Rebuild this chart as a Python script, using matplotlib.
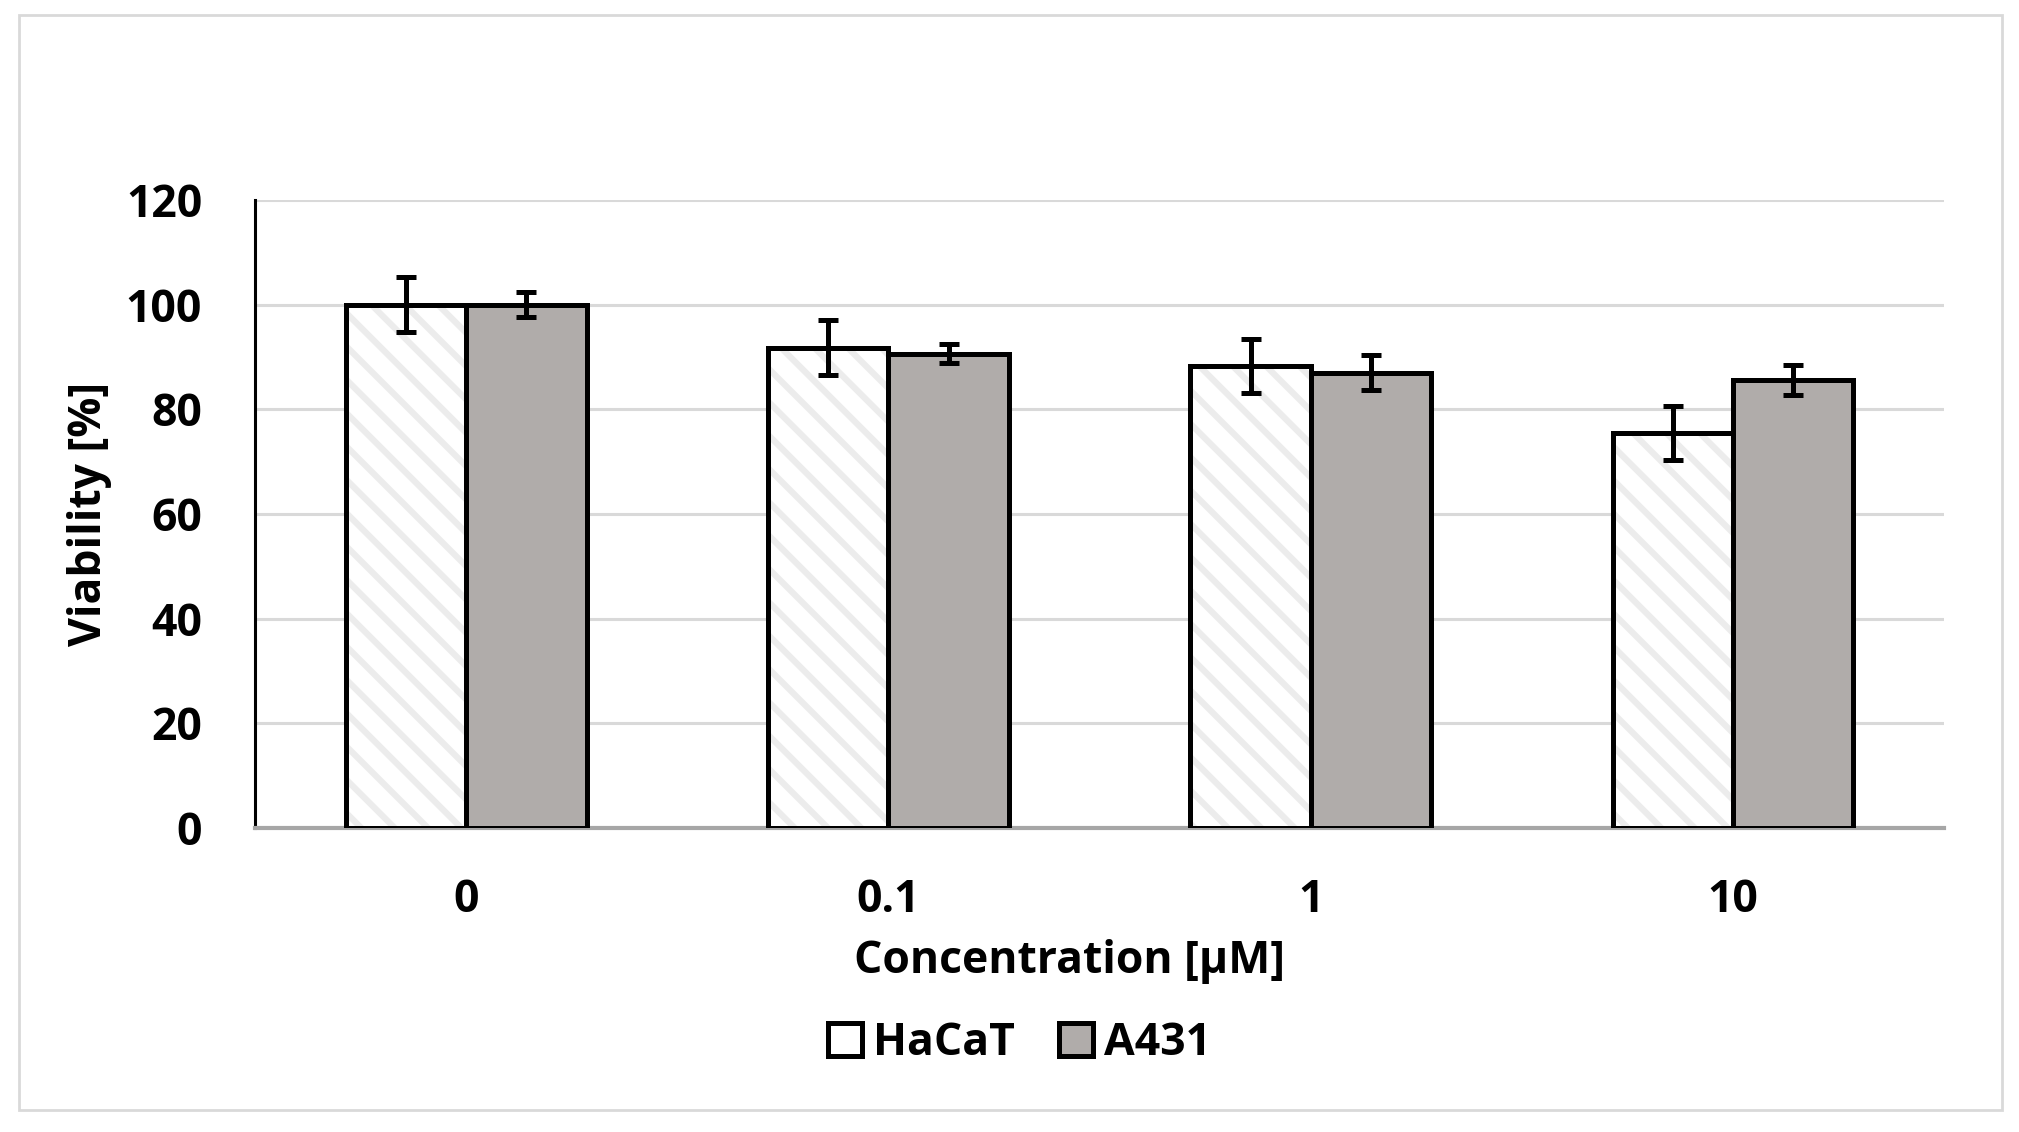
import matplotlib
matplotlib.use('Agg')
import matplotlib.pyplot as plt
from matplotlib.patches import Rectangle, Patch
import numpy as np

concentrations = ['0', '0.1', '1', '10']
hacat = [100, 91.8, 88.3, 75.5]
hacat_err = [5.2, 5.2, 5.2, 5.2]
a431 = [100, 90.6, 87.0, 85.6]
a431_err = [2.4, 1.8, 3.4, 2.8]

plt.rcParams['font.family'] = ['Open Sans', 'DejaVu Sans']
plt.rcParams['font.weight'] = 'bold'
plt.rcParams['hatch.linewidth'] = 4.5

fig = plt.figure(figsize=(20.19, 11.32), dpi=100)
ax = fig.add_axes([0.1263, 0.2686, 0.8367, 0.5547])

x = np.arange(len(concentrations))
w = 0.285
gray = '#b0acaa'

# hatch layer first (hatch takes the edge colour), then black outlines on top
ax.bar(x - w / 2, hacat, w, color='white', edgecolor='#ececec', linewidth=0,
       hatch='\\', zorder=3)
ax.bar(x - w / 2, hacat, w, fill=False, edgecolor='black', linewidth=3.6, zorder=3.5)
ax.bar(x + w / 2, a431, w, color=gray, edgecolor='black', linewidth=3.6, zorder=3.5)
ax.errorbar(x - w / 2, hacat, yerr=hacat_err, fmt='none', ecolor='black',
            elinewidth=3.6, capsize=7, capthick=3.6, zorder=4)
ax.errorbar(x + w / 2, a431, yerr=a431_err, fmt='none', ecolor='black',
            elinewidth=3.6, capsize=7, capthick=3.6, zorder=4)

ax.set_xlim(-0.5, 3.5)
ax.set_ylim(0, 120)
ax.set_yticks(np.arange(0, 121, 20))
ax.set_xticks(x)
ax.set_xticklabels(concentrations)
ax.tick_params(axis='both', length=0, labelsize=32)
ax.tick_params(axis='y', pad=38)
ax.tick_params(axis='x', pad=36)
ax.yaxis.grid(True, color='#d9d9d9', linewidth=2.2, zorder=0)
ax.set_axisbelow(True)

for s in ['top', 'right']:
    ax.spines[s].set_visible(False)
ax.spines['left'].set_linewidth(2.2)
ax.spines['left'].set_color('black')
ax.spines['bottom'].set_linewidth(3)
ax.spines['bottom'].set_color('#a6a6a6')

ax.set_xlabel('Concentration [µM]', fontsize=32, fontweight='bold')
ax.xaxis.set_label_coords(0.482, -0.177)
ax.set_ylabel('Viability [%]', fontsize=32, fontweight='bold', labelpad=10)

handles = [Patch(facecolor='white', edgecolor='black', linewidth=3.6, label='HaCaT'),
           Patch(facecolor=gray, edgecolor='black', linewidth=3.6, label='A431')]
fig.legend(handles=handles, loc='center', bbox_to_anchor=(0.505, 0.078), ncol=2,
           frameon=False, fontsize=32, handlelength=0.75, handleheight=0.75,
           handletextpad=0.25, columnspacing=1.0)

fig.patches.append(Rectangle((19 / 2019, 1 - 1110 / 1132), 1983 / 2019, 1095 / 1132,
                             transform=fig.transFigure, fill=False,
                             edgecolor='#d9d9d9', linewidth=2))

fig.savefig('out.png', dpi=100)
